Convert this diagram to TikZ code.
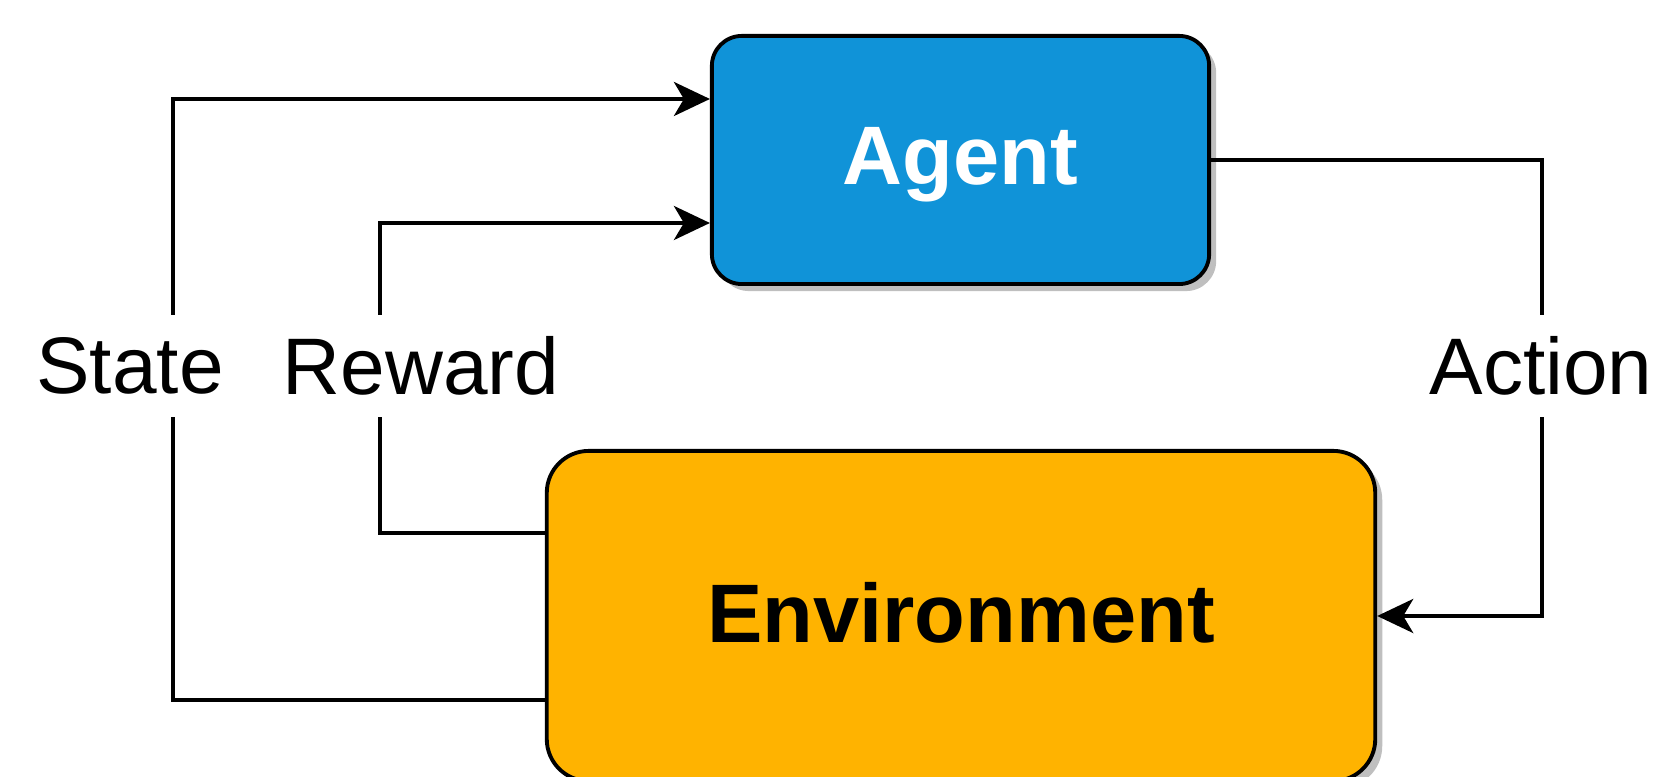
\documentclass[tikz,border=0pt]{standalone}
\usepackage{fontspec}
\setmainfont{Liberation Sans}
\usetikzlibrary{arrows.meta,shadows}
\definecolor{agentblue}{HTML}{1093D8}
\definecolor{envorange}{HTML}{FFB300}
\begin{document}
\begin{tikzpicture}[x=0.01cm,y=-0.01cm,
	box/.style={draw=black,line width=1.1pt,inner sep=0pt,text depth=0.21em,
		drop shadow={shadow xshift=0.07cm,shadow yshift=-0.07cm,fill=black!25,opacity=1},
		font=\fontsize{23.6}{26}\selectfont\bfseries},
	flow/.style={line width=1.1pt,-{Stealth[length=0.36cm,width=0.34cm,inset=0.1cm]}},
	lab/.style={fill=white,inner sep=0pt,minimum height=1.02cm,font=\fontsize{22.8}{26}\selectfont}]
\useasboundingbox (0,0) rectangle (1664,777);
\clip (0,0) rectangle (1664,777);
%boxes
\node[box,fill=agentblue,text=white,rounded corners=0.3cm,minimum width=4.97cm,minimum height=2.48cm] (agent) at (960.5,160) {Agent};
\node[box,fill=envorange,rounded corners=0.42cm,minimum width=8.28cm,minimum height=3.3cm] (env) at (961,616) {Environment};
%loop
\draw[flow] (env.west |- 0,700) -| (173,99) -- (agent.west |- 0,99);
\draw[flow] (env.west |- 0,533) -| (380,223) -- (agent.west |- 0,223);
\draw[flow] (agent.east) -| (1542,616) -- (env.east);
%labels
\node[lab] (state) at (130,366) {State};
\node[lab] (reward) at (421,366) {Reward};
\node[lab] (action) at (1541,366) {Action};
\end{tikzpicture}
\end{document}
